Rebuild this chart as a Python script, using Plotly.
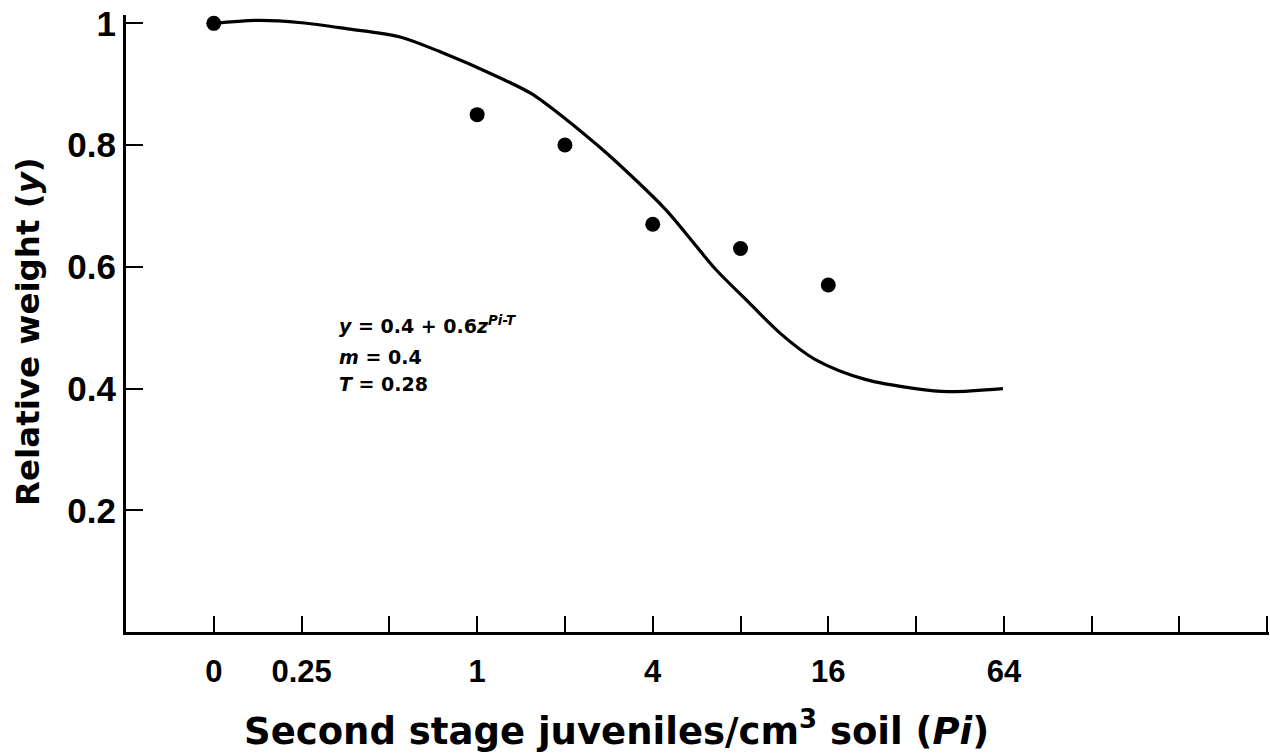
import math
import plotly.graph_objects as go

# ---- data ----
pi_obs = [0, 1, 2, 4, 8, 16]
rel_weight_obs = [1.00, 0.85, 0.80, 0.67, 0.63, 0.57]

curve_pi = [0, 0.18, 0.25, 0.36, 0.54, 0.74, 1.19, 1.54, 2.02, 2.61, 2.99,
            4.43, 5.75, 6.57, 8.52, 11.05, 14.4, 21.4, 31.8, 41.2, 63.5]
curve_y = [1.000, 1.005, 1.001, 0.991, 0.978, 0.954, 0.911, 0.884, 0.842, 0.798, 0.773,
           0.694, 0.629, 0.596, 0.542, 0.489, 0.448, 0.415, 0.400, 0.395, 0.400]

tick_label_values = [0, 0.25, 1, 4, 16, 64]
tick_label_text = ["0", "0.25", "1", "4", "16", "64"]
y_tick_values = [0.2, 0.4, 0.6, 0.8, 1.0]
y_tick_text = ["0.2", "0.4", "0.6", "0.8", "1"]

ZERO_POS = -3  # zero is drawn one doubling-step left of 0.25


def pos(p):
    return math.log2(p) if p > 0 else ZERO_POS


x_ticks_all = list(range(-3, 10))
tick_pos_labels = {pos(v): t for v, t in zip(tick_label_values, tick_label_text)}
x_ticktext = [tick_pos_labels.get(float(t), "") for t in x_ticks_all]

fig = go.Figure()
fig.add_trace(go.Scatter(
    x=[pos(p) for p in curve_pi], y=curve_y, mode="lines",
    line=dict(color="black", width=3.2, shape="spline", smoothing=0.9),
    hoverinfo="skip", cliponaxis=False))
fig.add_trace(go.Scatter(
    x=[pos(p) for p in pi_obs], y=rel_weight_obs, mode="markers",
    marker=dict(color="black", size=15), cliponaxis=False))

L, R, T, B = 126, 1, 15, 124
fig.update_layout(
    width=1270, height=756,
    margin=dict(l=L, r=R, t=T, b=B, pad=0),
    paper_bgcolor="white", plot_bgcolor="white",
    showlegend=False,
)
fig.update_xaxes(
    range=[-4, 9.02], showgrid=False, zeroline=False,
    showline=True, linecolor="black", linewidth=3,
    tickmode="array", tickvals=x_ticks_all, ticktext=x_ticktext,
    ticks="inside", ticklen=16, tickwidth=1.5, tickcolor="black",
    tickfont=dict(family="Liberation Sans", size=31, color="black", weight="bold"),
    ticklabelstandoff=10,
)
fig.update_yaxes(
    range=[0, 1.0137], showgrid=False, zeroline=False,
    showline=True, linecolor="black", linewidth=3,
    tickmode="array", tickvals=y_tick_values, ticktext=y_tick_text,
    ticks="inside", ticklen=17, tickwidth=1.5, tickcolor="black",
    tickfont=dict(family="Liberation Sans", size=35, color="black", weight="bold"),
    ticklabelstandoff=0,
)

plot_w = 1270 - L - R
plot_h = 756 - T - B

fig.add_annotation(
    text="Second stage juveniles/cm<sup>3</sup> soil (<i>Pi</i>)",
    xref="paper", yref="paper", x=(616 - L) / plot_w, y=(756 - B - 728) / plot_h,
    xanchor="center", yanchor="middle", showarrow=False,
    font=dict(family="DejaVu Sans", size=37, color="black", weight="bold"))
fig.add_annotation(
    text="Relative weight (<i>y</i>)",
    xref="paper", yref="paper", x=(28 - L) / plot_w, y=(756 - B - 332) / plot_h,
    xanchor="center", yanchor="middle", textangle=-90, showarrow=False,
    font=dict(family="DejaVu Sans", size=32.5, color="black", weight="bold"))

formula_lines = [
    ("<i>y</i> = 0.4 + 0.6<i>z</i><sup><i>Pi-T</i></sup>", 0.505),
    ("<i>m</i> = 0.4", 0.452),
    ("<i>T</i> = 0.28", 0.407),
]
for txt, yv in formula_lines:
    fig.add_annotation(
        text=txt, x=-1.60, y=yv, xref="x", yref="y",
        xanchor="left", yanchor="middle", showarrow=False,
        font=dict(family="DejaVu Sans", size=19, color="black", weight="bold"))

fig.write_html("out.html", config={"displayModeBar": False},
               post_script="document.body.style.margin='0';")
